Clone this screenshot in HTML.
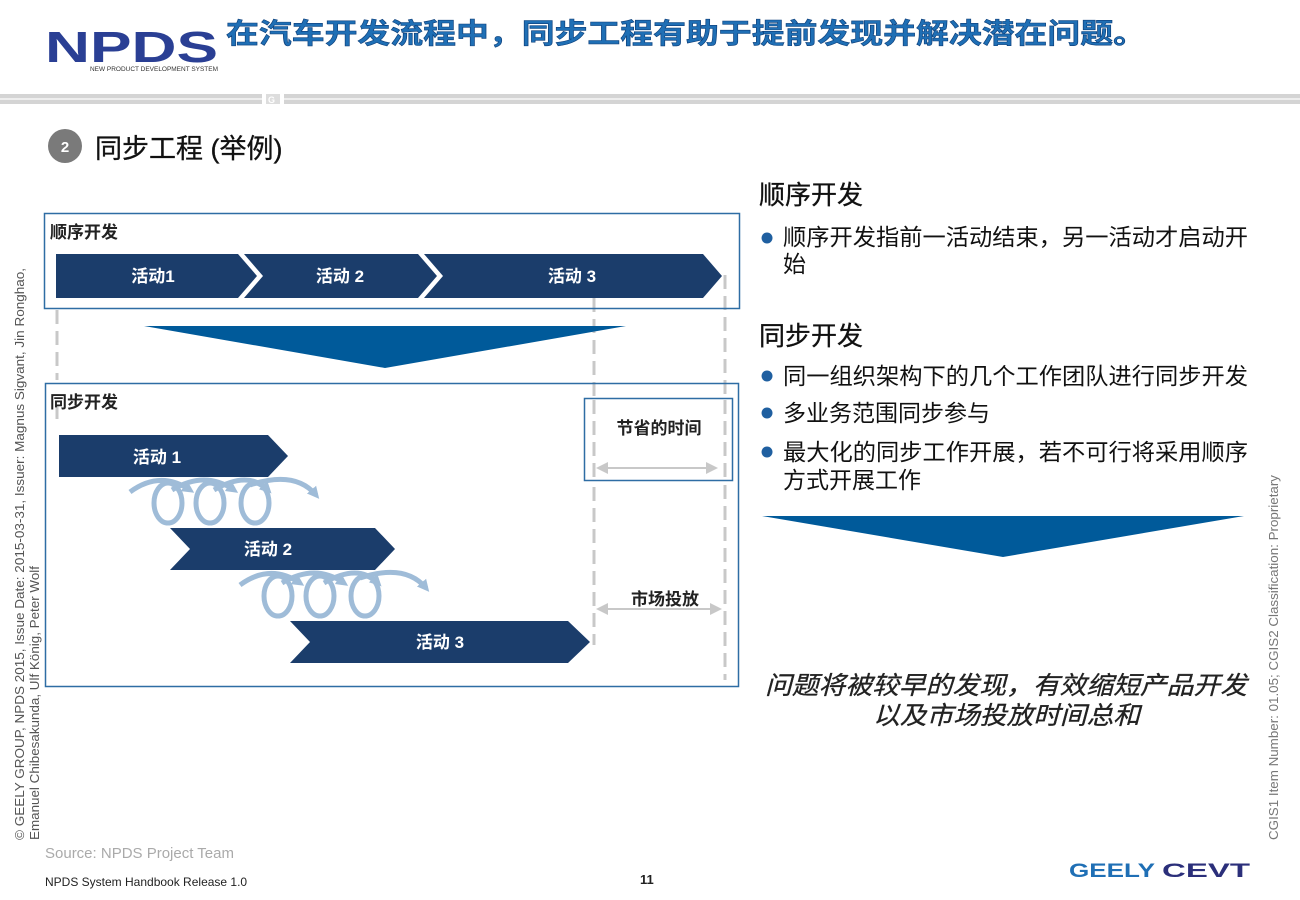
<!DOCTYPE html>
<html><head><meta charset="utf-8"><style>
html,body{margin:0;padding:0;background:#fff;}
svg{display:block;}
text{font-family:"Liberation Sans","Noto Sans CJK SC",sans-serif;}
</style></head><body>
<svg width="1300" height="900" viewBox="0 0 1300 900" xmlns="http://www.w3.org/2000/svg">
<defs>
<marker id="ga" markerUnits="userSpaceOnUse" markerWidth="14" markerHeight="14" refX="10" refY="7" orient="auto-start-reverse"><path d="M0,1 L12,7 L0,13 z" fill="#c8c8c8"/></marker>
<marker id="ba" markerUnits="userSpaceOnUse" markerWidth="14" markerHeight="14" refX="7" refY="7" orient="auto"><path d="M0,1 L12,7 L0,13 z" fill="#8fb1d2"/></marker>
<g id="swirl" fill="none" stroke="#8fb1d2" stroke-width="5" opacity="0.85">
<ellipse cx="168" cy="503" rx="14" ry="20"/>
<ellipse cx="210" cy="503" rx="14" ry="20"/>
<ellipse cx="255" cy="503" rx="14" ry="20"/>
<path d="M130,492 Q160,470 190,490" marker-end="url(#ba)"/>
<path d="M172,490 Q205,470 234,490" marker-end="url(#ba)"/>
<path d="M214,490 Q248,470 268,490" marker-end="url(#ba)"/>
<path d="M250,485 Q295,470 316,495" marker-end="url(#ba)"/>
</g>
</defs>
<!-- header -->
<text x="45" y="62" font-size="44" font-weight="bold" fill="#2a3f94" textLength="173" lengthAdjust="spacingAndGlyphs">NPDS</text>
<text x="90" y="71" font-size="6" fill="#333" textLength="128" lengthAdjust="spacingAndGlyphs">NEW PRODUCT DEVELOPMENT SYSTEM</text>
<text x="226" y="43" font-size="28" font-weight="bold" fill="#1f6fb5" stroke="#0d3f7a" stroke-width="0.6" textLength="920" lengthAdjust="spacingAndGlyphs">在汽车开发流程中，同步工程有助于提前发现并解决潜在问题。</text>
<rect x="0" y="94" width="262" height="10" fill="#d4d4d4"/>
<rect x="284" y="94" width="1016" height="10" fill="#d4d4d4"/>
<rect x="0" y="98" width="262" height="2" fill="#eee"/>
<rect x="284" y="98" width="1016" height="2" fill="#eee"/>
<rect x="266" y="94" width="14" height="10" fill="#ddd"/>
<text x="268" y="103" font-size="9" fill="#fff" font-weight="bold">G</text>
<circle cx="65" cy="146" r="17" fill="#7a7a7a"/>
<text x="65" y="152" font-size="15" font-weight="bold" fill="#fff" text-anchor="middle">2</text>
<text x="95" y="158" font-size="27" fill="#111" stroke="#111" stroke-width="0.3">同步工程 (举例)</text>

<!-- dashed lines -->
<g stroke="#c8c8c8" stroke-width="3" stroke-dasharray="14 7" fill="none">
<line x1="57" y1="310" x2="57" y2="380"/>
<line x1="57" y1="405" x2="57" y2="425"/>
<line x1="594" y1="298" x2="594" y2="645"/>
<line x1="725" y1="275" x2="725" y2="680"/>
</g>

<!-- sequential -->
<rect x="44.5" y="213.5" width="695" height="95" fill="none" stroke="#2e6da4" stroke-width="1.5"/>
<text x="50" y="238" font-size="17" font-weight="bold" fill="#222">顺序开发</text>
<g fill="#1b3d6b">
<polygon points="56,254 238,254 257,276 238,298 56,298"/>
<polygon points="244,254 418,254 437,276 418,298 244,298 263,276"/>
<polygon points="424,254 703,254 722,276 703,298 424,298 443,276"/>
</g>
<g font-size="17" font-weight="bold" fill="#fff" text-anchor="middle">
<text x="153" y="282">活动1</text>
<text x="340" y="282">活动 2</text>
<text x="572" y="282">活动 3</text>
</g>
<polygon points="144,326 626,326 385,368" fill="#005a9a"/>

<!-- sync -->
<rect x="45.5" y="383.5" width="693" height="303" fill="none" stroke="#2e6da4" stroke-width="1.5"/>
<text x="50" y="408" font-size="17" font-weight="bold" fill="#222">同步开发</text>
<g fill="#1b3d6b">
<polygon points="59,435 268,435 288,456 268,477 59,477"/>
<polygon points="170,528 375,528 395,549 375,570 170,570 190,549"/>
<polygon points="290,621 568,621 590,642 568,663 290,663 310,642"/>
</g>
<g font-size="17" font-weight="bold" fill="#fff" text-anchor="middle">
<text x="157" y="463">活动 1</text>
<text x="268" y="555">活动 2</text>
<text x="440" y="648">活动 3</text>
</g>
<use href="#swirl"/>
<use href="#swirl" transform="translate(110,93)"/>

<rect x="584.5" y="398.5" width="148" height="82" fill="#fff" stroke="#2e6da4" stroke-width="1.5"/>
<g stroke="#c8c8c8" stroke-width="3" stroke-dasharray="14 7"><line x1="594" y1="400" x2="594" y2="480"/><line x1="725" y1="400" x2="725" y2="480"/></g>
<text x="659" y="434" font-size="17" font-weight="bold" fill="#222" text-anchor="middle">节省的时间</text>
<line x1="598" y1="468" x2="716" y2="468" stroke="#c8c8c8" stroke-width="2" marker-start="url(#ga)" marker-end="url(#ga)"/>
<text x="665" y="605" font-size="17" font-weight="bold" fill="#222" text-anchor="middle">市场投放</text>
<line x1="598" y1="609" x2="720" y2="609" stroke="#c8c8c8" stroke-width="2" marker-start="url(#ga)" marker-end="url(#ga)"/>

<!-- right column -->
<g font-size="26" fill="#111" stroke="#111" stroke-width="0.3">
<text x="759" y="204">顺序开发</text>
<text x="759" y="345">同步开发</text>
</g>
<g fill="#1f5fa0">
<circle cx="767" cy="238" r="5.5"/><circle cx="767" cy="376" r="5.5"/><circle cx="767" cy="413" r="5.5"/><circle cx="767" cy="452" r="5.5"/>
</g>
<g font-size="23" fill="#111">
<text x="783" y="245" textLength="465" lengthAdjust="spacingAndGlyphs">顺序开发指前一活动结束，另一活动才启动开</text>
<text x="783" y="272">始</text>
<text x="783" y="384" textLength="465" lengthAdjust="spacingAndGlyphs">同一组织架构下的几个工作团队进行同步开发</text>
<text x="783" y="421">多业务范围同步参与</text>
<text x="783" y="460" textLength="465" lengthAdjust="spacingAndGlyphs">最大化的同步工作开展，若不可行将采用顺序</text>
<text x="783" y="488">方式开展工作</text>
</g>
<polygon points="762,516 1244,516 1003,557" fill="#005a9a"/>
<g font-size="25" font-style="italic" fill="#222" stroke="#222" stroke-width="0.3">
<text x="765" y="694" textLength="482" lengthAdjust="spacingAndGlyphs">问题将被较早的发现，有效缩短产品开发</text>
<text x="873" y="724" textLength="267" lengthAdjust="spacingAndGlyphs">以及市场投放时间总和</text>
</g>

<!-- side texts -->
<g font-size="12.5" fill="#555">
<text transform="translate(24,840) rotate(-90)" textLength="572" lengthAdjust="spacingAndGlyphs">© GEELY GROUP, NPDS 2015, Issue Date: 2015-03-31, Issuer: Magnus Sigvant, Jin Ronghao,</text>
<text transform="translate(39,840) rotate(-90)" textLength="274" lengthAdjust="spacingAndGlyphs">Emanuel Chibesakunda, Ulf König, Peter Wolf</text>
<text transform="translate(1278,840) rotate(-90)" textLength="365" lengthAdjust="spacingAndGlyphs" fill="#777">CGIS1 Item Number: 01.05; CGIS2 Classification: Proprietary</text>
</g>

<!-- footer -->
<text x="45" y="858" font-size="15" fill="#aaa">Source: NPDS Project Team</text>
<text x="45" y="886" font-size="12" fill="#222">NPDS System Handbook Release 1.0</text>
<text x="640" y="884" font-size="13" font-weight="bold" fill="#222">11</text>
<text x="1069" y="877" font-size="19" font-weight="bold" fill="#1f6fb5" textLength="86" lengthAdjust="spacingAndGlyphs">GEELY</text>
<text x="1162" y="877" font-size="19" font-weight="bold" fill="#2b2f7a" textLength="88" lengthAdjust="spacingAndGlyphs">CEVT</text>
</svg>
</body></html>
